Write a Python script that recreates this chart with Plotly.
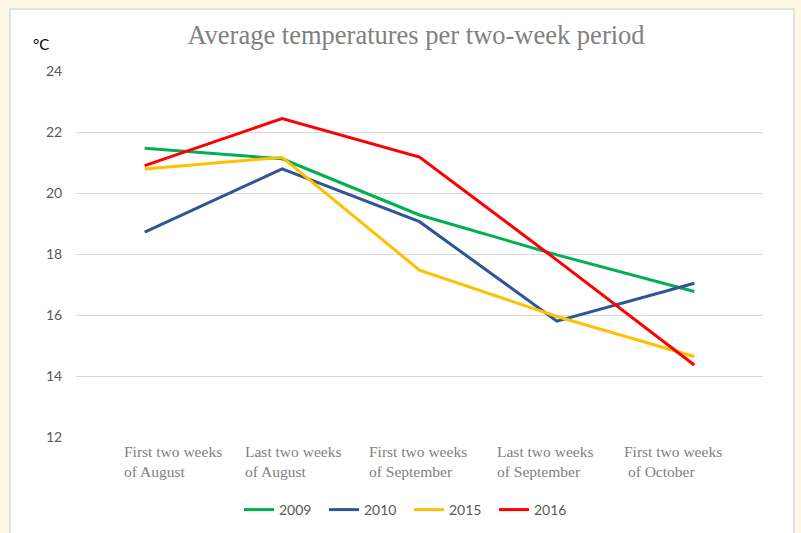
import plotly.graph_objects as go

categories = ["First two weeks<br>of August", "Last two weeks<br>of August",
              "First two weeks<br>of September", "Last two weeks<br>of September",
              "First two weeks<br> of October"]
series_names = ["2009", "2010", "2015", "2016"]
v2009 = [21.47, 21.12, 19.28, 17.97, 16.77]
v2010 = [18.72, 20.79, 19.06, 15.80, 17.04]
v2015 = [20.79, 21.17, 17.47, 15.95, 14.64]
v2016 = [20.90, 22.44, 21.18, 17.80, 14.36]
y_ticks = [12, 14, 16, 18, 20, 22, 24]

colors = ["#00B050", "#2F5597", "#FFC000", "#FF0000"]
label_shifts = [-23, -39, -53, -62, -72]

fig = go.Figure()
for name, vals, col in zip(series_names, [v2009, v2010, v2015, v2016], colors):
    fig.add_trace(go.Scatter(x=list(range(len(categories))), y=vals, mode="lines",
                             name=name, line=dict(color=col, width=3)))

L, R, T, B = 76, 38, 71, 96
W, H = 801, 533
pw, ph = W - L - R, H - T - B

def px_x(p):
    return (p - L) / pw

def px_y(p):
    return (H - B - p) / ph

shapes = [
    dict(type="rect", xref="paper", yref="paper", x0=px_x(10), x1=px_x(794),
         y0=px_y(545), y1=px_y(9), fillcolor="white",
         line=dict(color="#D9D9D9", width=1.5), layer="below"),
    dict(type="rect", xref="paper", yref="paper", x0=px_x(164), x1=px_x(668),
         y0=px_y(75), y1=px_y(67), fillcolor="white", line=dict(width=0), layer="above"),
    dict(type="rect", xref="paper", yref="paper", x0=px_x(102), x1=px_x(766),
         y0=px_y(441), y1=px_y(433), fillcolor="white", line=dict(width=0), layer="above"),
]

annotations = [
    dict(text="°C", xref="paper", yref="paper", x=px_x(31), y=px_y(44),
         xanchor="left", yanchor="middle", showarrow=False,
         font=dict(family="Lato, Open Sans, sans-serif", size=15, color="#000000")),
]
for i, (cat, sh) in enumerate(zip(categories, label_shifts)):
    annotations.append(dict(text=cat, x=i, y=12, xref="x", yref="y", xanchor="left",
                            yanchor="top", align="left", xshift=sh, yshift=-4,
                            showarrow=False,
                            font=dict(family="Liberation Serif, serif", size=15.5,
                                      color="#808080")))

fig.update_layout(
    width=W, height=H,
    margin=dict(l=L, r=R, t=T, b=B, pad=0, autoexpand=False),
    paper_bgcolor="#FFF8E5",
    plot_bgcolor="white",
    title=dict(text="Average temperatures per two-week period", x=px_x(416),
               xanchor="center", xref="paper", y=1 - 35 / H, yanchor="middle",
               font=dict(family="Liberation Serif, serif", size=26.5, color="#808080")),
    showlegend=True,
    legend=dict(orientation="h", xref="container", yref="container",
                x=409 / W, xanchor="center", y=1 - 510 / H,
                yanchor="middle", font=dict(family="Lato, Open Sans, sans-serif",
                                            size=14, color="#595959"),
                bgcolor="rgba(0,0,0,0)", itemwidth=30, entrywidth=40),
    shapes=shapes,
    annotations=annotations,
    xaxis=dict(range=[-0.5, 4.5], showgrid=False, zeroline=False, showline=False,
               showticklabels=False, fixedrange=True),
    yaxis=dict(range=[12, 24], tickvals=y_ticks, showgrid=True, gridcolor="#D9D9D9",
               gridwidth=1.3, zeroline=False, showline=False, ticks="outside",
               ticklen=10, tickcolor="rgba(0,0,0,0)", automargin=False,
               tickfont=dict(family="Lato, Open Sans, sans-serif", size=14,
                             color="#595959")),
)

fig.write_html("out.html", config={"displayModeBar": False},
               post_script="document.body.style.margin='0';document.body.style.background='#FFF8E5';")
